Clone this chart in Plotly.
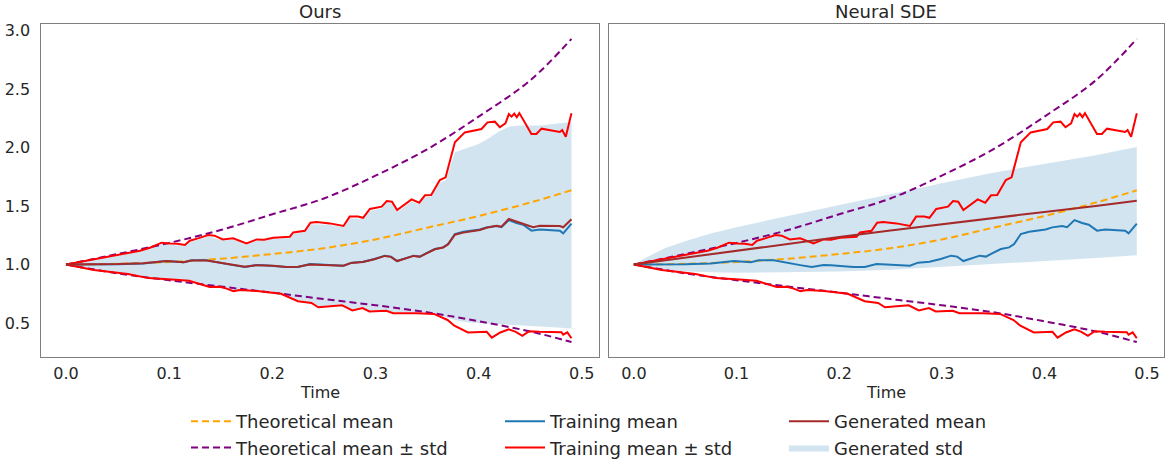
import plotly.graph_objects as go

# ---------------- data ----------------
theo_t = [0.0, 0.05, 0.1, 0.15, 0.2, 0.25, 0.3, 0.35, 0.4, 0.45, 0.49]
theo_mean = [1.0, 1.006, 1.022, 1.05, 1.09, 1.14, 1.215, 1.315, 1.415, 1.53, 1.635]
theo_upper = [1.0, 1.09, 1.185, 1.295, 1.43, 1.565, 1.76, 1.985, 2.265, 2.575, 2.93]
theo_lower = [1.0, 0.925, 0.866, 0.812, 0.76, 0.705, 0.652, 0.592, 0.515, 0.428, 0.337]

train_up_t = [0.0, 0.0265, 0.0523, 0.0717, 0.0814, 0.0927, 0.101, 0.108, 0.1153, 0.12,
              0.128, 0.1379, 0.144, 0.152, 0.162, 0.175, 0.185, 0.192, 0.2009, 0.217,
              0.2203, 0.2316, 0.237, 0.243, 0.2558, 0.269, 0.275, 0.283, 0.288, 0.2946,
              0.306, 0.311, 0.316, 0.321, 0.335, 0.3424, 0.348, 0.354, 0.3624, 0.368,
              0.377, 0.3866, 0.4028, 0.4086, 0.4157, 0.4205, 0.426, 0.4293, 0.432, 0.4345,
              0.437, 0.4395, 0.4512, 0.456, 0.461, 0.4787, 0.481, 0.4845, 0.49]
train_up_v = [1.0, 1.044, 1.09, 1.118, 1.144, 1.187, 1.18, 1.178, 1.167, 1.204,
              1.224, 1.252, 1.247, 1.215, 1.224, 1.181, 1.215, 1.213, 1.229, 1.238,
              1.275, 1.289, 1.358, 1.364, 1.352, 1.33, 1.41, 1.41, 1.40, 1.475,
              1.495, 1.543, 1.537, 1.466, 1.557, 1.529, 1.592, 1.595, 1.723, 1.746,
              2.045, 2.13, 2.159, 2.216, 2.222, 2.174, 2.208, 2.287, 2.265, 2.29,
              2.26, 2.295, 2.116, 2.116, 2.162, 2.133, 2.15, 2.093, 2.293]

train_lo_t = [0.0, 0.0271, 0.0601, 0.0799, 0.1062, 0.1194, 0.1392, 0.149, 0.1557, 0.1623,
              0.169, 0.1853, 0.2084, 0.2249, 0.238, 0.2446, 0.2677, 0.2776, 0.2875, 0.2941,
              0.3106, 0.3172, 0.3402, 0.3567, 0.3699, 0.3765, 0.3897, 0.4078, 0.4128, 0.421,
              0.4292, 0.436, 0.4424, 0.449, 0.4589, 0.4803, 0.482, 0.486, 0.49]
train_lo_v = [1.0, 0.954, 0.919, 0.884, 0.869, 0.861, 0.808, 0.81, 0.794, 0.773,
              0.782, 0.773, 0.75, 0.686, 0.671, 0.634, 0.651, 0.607, 0.628, 0.599,
              0.605, 0.584, 0.584, 0.578, 0.526, 0.477, 0.419, 0.425, 0.375, 0.419,
              0.447, 0.425, 0.39, 0.43, 0.425, 0.422, 0.40, 0.42, 0.37]

train_mean_t = [0.0, 0.026, 0.05, 0.075, 0.0975, 0.114, 0.1218, 0.1363, 0.146, 0.1557,
                0.162, 0.1734, 0.1848, 0.192, 0.2009, 0.2138, 0.225, 0.2364, 0.246, 0.269,
                0.2768, 0.288, 0.299, 0.3091, 0.315, 0.321, 0.337, 0.343, 0.349, 0.3576,
                0.3656, 0.3705, 0.377, 0.3851, 0.4012, 0.4076, 0.4173, 0.4221, 0.4293, 0.4367,
                0.4432, 0.4512, 0.4593, 0.4787, 0.482, 0.49]
train_mean_v = [1.0, 1.0, 1.003, 1.01, 1.03, 1.02, 1.036, 1.036, 1.02, 1.0,
                0.995, 0.979, 0.996, 0.995, 0.988, 0.979, 0.98, 1.005, 1.0, 0.99,
                1.016, 1.024, 1.047, 1.076, 1.068, 1.03, 1.076, 1.068, 1.096, 1.133,
                1.147, 1.176, 1.261, 1.28, 1.30, 1.318, 1.33, 1.32, 1.38, 1.355,
                1.34, 1.29, 1.30, 1.29, 1.267, 1.35]

# "Ours": generated mean and generated std band
ours_mean_t = [0.0, 0.026, 0.05, 0.075, 0.0975, 0.114, 0.1218, 0.1363, 0.146, 0.1557,
               0.162, 0.1734, 0.1848, 0.192, 0.2009, 0.2138, 0.225, 0.2364, 0.246, 0.269,
               0.2768, 0.288, 0.299, 0.3091, 0.315, 0.321, 0.337, 0.343, 0.349, 0.3576,
               0.3656, 0.3705, 0.377, 0.3851, 0.4012, 0.4076, 0.4173, 0.4221, 0.4293, 0.4367,
               0.4432, 0.4528, 0.4593, 0.4787, 0.482, 0.49]
ours_mean_v = [1.0, 1.001, 1.004, 1.012, 1.03, 1.02, 1.035, 1.035, 1.02, 1.002,
               0.995, 0.981, 0.995, 0.994, 0.99, 0.98, 0.982, 1.0, 0.998, 0.99,
               1.014, 1.022, 1.045, 1.074, 1.066, 1.03, 1.074, 1.066, 1.094, 1.131,
               1.146, 1.174, 1.255, 1.273, 1.295, 1.315, 1.332, 1.324, 1.39, 1.368,
               1.353, 1.319, 1.332, 1.33, 1.319, 1.387]

ours_band_up_t = [0.0, 0.025, 0.05, 0.07, 0.08, 0.092, 0.1, 0.115, 0.12, 0.128,
                  0.138, 0.152, 0.162, 0.175, 0.185, 0.2, 0.217, 0.22, 0.232, 0.237,
                  0.256, 0.269, 0.275, 0.288, 0.295, 0.306, 0.311, 0.316, 0.321, 0.335,
                  0.342, 0.348, 0.354, 0.362, 0.368, 0.377, 0.39, 0.40, 0.41, 0.42,
                  0.43, 0.44, 0.45, 0.46, 0.47, 0.48, 0.49]
ours_band_up_v = [1.0, 1.04, 1.085, 1.11, 1.135, 1.175, 1.17, 1.16, 1.19, 1.215,
                  1.24, 1.205, 1.215, 1.17, 1.205, 1.22, 1.228, 1.26, 1.28, 1.345,
                  1.34, 1.32, 1.395, 1.39, 1.46, 1.48, 1.53, 1.52, 1.45, 1.54,
                  1.515, 1.575, 1.58, 1.70, 1.72, 1.96, 2.0, 2.03, 2.08, 2.14,
                  2.18, 2.19, 2.19, 2.19, 2.2, 2.21, 2.22]
ours_band_lo_t = [0.0, 0.027, 0.06, 0.08, 0.106, 0.119, 0.139, 0.156, 0.162, 0.185,
                  0.208, 0.225, 0.238, 0.245, 0.268, 0.278, 0.2875, 0.294, 0.31, 0.317,
                  0.34, 0.357, 0.37, 0.38, 0.39, 0.40, 0.42, 0.44, 0.46, 0.48, 0.49]
ours_band_lo_v = [1.0, 0.96, 0.925, 0.89, 0.875, 0.866, 0.815, 0.80, 0.78, 0.78,
                  0.757, 0.695, 0.68, 0.643, 0.66, 0.617, 0.636, 0.608, 0.613, 0.592,
                  0.592, 0.585, 0.545, 0.52, 0.505, 0.50, 0.49, 0.48, 0.47, 0.46, 0.45]

# "Neural SDE": generated mean and generated std band
sde_t = [0.0, 0.005, 0.01, 0.015, 0.02, 0.025, 0.03, 0.04, 0.05, 0.075, 0.1, 0.15, 0.2,
         0.25, 0.3, 0.35, 0.4, 0.45, 0.49]
sde_mean = [1.0, 1.006, 1.012, 1.018, 1.024, 1.03, 1.036, 1.048, 1.06, 1.09, 1.119, 1.177,
            1.235, 1.291, 1.345, 1.398, 1.45, 1.50, 1.546]
sde_band_up = [1.0, 1.027, 1.05, 1.073, 1.094, 1.118, 1.139, 1.17, 1.20, 1.265, 1.32, 1.415,
               1.51, 1.60, 1.695, 1.785, 1.86, 1.935, 2.005]
sde_band_lo = [1.0, 0.986, 0.975, 0.967, 0.96, 0.956, 0.952, 0.945, 0.94, 0.934, 0.93, 0.932,
               0.94, 0.955, 0.98, 1.005, 1.03, 1.055, 1.08]

titles = ["Ours", "Neural SDE"]
x_ticks = [0.0, 0.1, 0.2, 0.3, 0.4, 0.5]
y_ticks = [0.5, 1.0, 1.5, 2.0, 2.5, 3.0]

# ---------------- styling ----------------
W, H = 1166, 461
FONT = "DejaVu Sans"
TXT = "#262626"
C_ORANGE = "orange"
C_PURPLE = "purple"
C_BLUE = "#1f77b4"
C_RED = "#ff0000"
C_BROWN = "#a52a2a"
C_BAND = "rgba(31,119,180,0.2)"
DASH = "7px,4px"
LW = 2

fig = go.Figure()

panels = [
    dict(xa="x", ya="y", mean_t=ours_mean_t, mean_v=ours_mean_v,
         band_x=ours_band_up_t + ours_band_lo_t[::-1],
         band_y=ours_band_up_v + ours_band_lo_v[::-1]),
    dict(xa="x2", ya="y2", mean_t=sde_t, mean_v=sde_mean,
         band_x=sde_t + sde_t[::-1],
         band_y=sde_band_up + sde_band_lo[::-1]),
]

for i, p in enumerate(panels):
    first = (i == 0)
    fig.add_trace(go.Scatter(x=p["band_x"], y=p["band_y"], xaxis=p["xa"], yaxis=p["ya"],
                             fill="toself", fillcolor=C_BAND, mode="lines",
                             line=dict(width=0, color=C_BAND),
                             name="Generated std", legend="legend3", legendrank=2,
                             showlegend=first, hoverinfo="skip"))
    fig.add_trace(go.Scatter(x=theo_t, y=theo_mean, xaxis=p["xa"], yaxis=p["ya"], mode="lines",
                             line=dict(color=C_ORANGE, width=LW, dash=DASH, shape="spline"),
                             name="Theoretical mean", legend="legend", legendrank=1,
                             showlegend=first))
    fig.add_trace(go.Scatter(x=theo_t, y=theo_upper, xaxis=p["xa"], yaxis=p["ya"], mode="lines",
                             line=dict(color=C_PURPLE, width=LW, dash=DASH, shape="spline"),
                             name="Theoretical mean ± std", legend="legend", legendrank=2,
                             showlegend=first))
    fig.add_trace(go.Scatter(x=theo_t, y=theo_lower, xaxis=p["xa"], yaxis=p["ya"], mode="lines",
                             line=dict(color=C_PURPLE, width=LW, dash=DASH, shape="spline"),
                             name="Theoretical mean ± std", legend="legend", showlegend=False))
    fig.add_trace(go.Scatter(x=train_mean_t, y=train_mean_v, xaxis=p["xa"], yaxis=p["ya"],
                             mode="lines", line=dict(color=C_BLUE, width=LW),
                             name="Training mean", legend="legend2", legendrank=1,
                             showlegend=first))
    fig.add_trace(go.Scatter(x=train_up_t, y=train_up_v, xaxis=p["xa"], yaxis=p["ya"],
                             mode="lines", line=dict(color=C_RED, width=LW),
                             name="Training mean ± std", legend="legend2", legendrank=2,
                             showlegend=first))
    fig.add_trace(go.Scatter(x=train_lo_t, y=train_lo_v, xaxis=p["xa"], yaxis=p["ya"],
                             mode="lines", line=dict(color=C_RED, width=LW),
                             name="Training mean ± std", legend="legend2", showlegend=False))
    fig.add_trace(go.Scatter(x=p["mean_t"], y=p["mean_v"], xaxis=p["xa"], yaxis=p["ya"],
                             mode="lines", line=dict(color=C_BROWN, width=LW),
                             name="Generated mean", legend="legend3", legendrank=1,
                             showlegend=first))

# ---------------- layout ----------------
left_dom = [40.5 / W, 598.8 / W]
right_dom = [608.5 / W, 1164.0 / W]
y_dom = [1 - 356.7 / H, 1 - 24.0 / H]
xrange = [-0.0247, 0.5165]
yrange = [0.212, 3.057]

axis_common = dict(showgrid=False, zeroline=False, showline=True, mirror=True,
                   linecolor="#7f7f7f", linewidth=1.3, ticks="",
                   tickfont=dict(family=FONT, size=16, color=TXT), automargin=False)

legend_common = dict(orientation="v", xanchor="left", yanchor="top",
                     bgcolor="rgba(0,0,0,0)", borderwidth=0,
                     font=dict(family=FONT, size=18, color=TXT),
                     itemwidth=40, traceorder="normal")

fig.update_layout(
    width=W, height=H,
    margin=dict(l=0, r=0, t=0, b=0, autoexpand=False),
    paper_bgcolor="white", plot_bgcolor="white",
    font=dict(family=FONT, color=TXT),
    xaxis=dict(domain=left_dom, range=xrange, anchor="y", tickvals=x_ticks,
               ticktext=[f"{v:.1f}" for v in x_ticks], ticklabelstandoff=2, **axis_common),
    yaxis=dict(domain=y_dom, range=yrange, anchor="x", tickvals=y_ticks,
               ticktext=[f"{v:.1f}" for v in y_ticks], ticklabelstandoff=6, **axis_common),
    xaxis2=dict(domain=right_dom, range=xrange, anchor="y2", tickvals=x_ticks,
                ticktext=[f"{v:.1f}" for v in x_ticks], ticklabelstandoff=2, **axis_common),
    yaxis2=dict(domain=y_dom, range=yrange, anchor="x2", tickvals=y_ticks,
                showticklabels=False, **axis_common),
    legend=dict(x=186 / W, y=1 - 403 / H, **legend_common),
    legend2=dict(x=500 / W, y=1 - 403 / H, **legend_common),
    legend3=dict(x=784 / W, y=1 - 403 / H, **legend_common),
    showlegend=True,
)

annots = []
for title, dom in zip(titles, [left_dom, right_dom]):
    cx = (dom[0] + dom[1]) / 2
    annots.append(dict(text=title, x=cx, y=1 - 11 / H, xref="paper", yref="paper",
                       xanchor="center", yanchor="middle", showarrow=False,
                       font=dict(family=FONT, size=18, color=TXT)))
    annots.append(dict(text="Time", x=cx, y=1 - 392 / H, xref="paper", yref="paper",
                       xanchor="center", yanchor="middle", showarrow=False,
                       font=dict(family=FONT, size=16, color=TXT)))
fig.update_layout(annotations=annots)

fig.write_html("out.html", config={"displayModeBar": False},
               post_script="document.body.style.margin='0px';"
                           "document.body.style.overflow='hidden';")
